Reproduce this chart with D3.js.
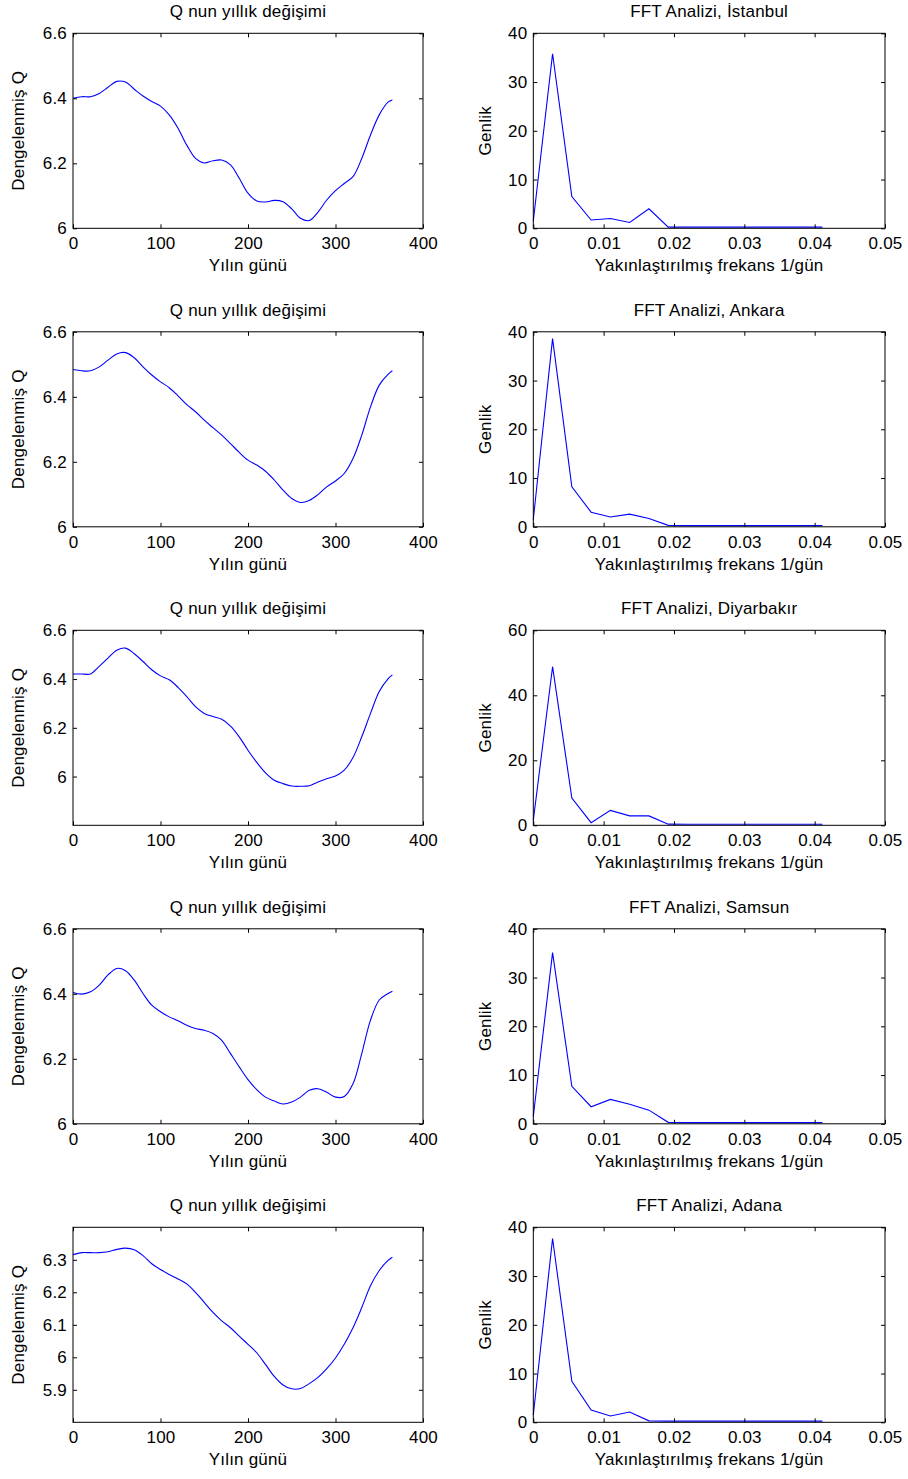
<!DOCTYPE html>
<html>
<head>
<meta charset="utf-8">
<script src="https://cdn.jsdelivr.net/npm/d3@7"></script>
<style>
  body { margin: 0; background: #fff; }
  text { font-family: "Liberation Sans", Arial, sans-serif; fill: #000; }
</style>
</head>
<body>
<script>
// gunler (x ekseni, sol paneller)
var days = [0,10,20,30,40,50,60,70,80,90,100,110,120,130,140,150,160,170,180,190,200,
            210,220,230,240,250,260,270,280,290,300,310,320,330,340,350,360,365];

var qIstanbul = [6.400,6.405,6.405,6.415,6.434,6.452,6.450,6.428,6.407,6.390,6.376,6.349,6.308,6.256,6.215,6.201,6.208,6.210,6.195,6.154,6.108,
                 6.084,6.081,6.086,6.082,6.060,6.031,6.024,6.050,6.087,6.116,6.138,6.159,6.215,6.287,6.349,6.388,6.395];
var qAnkara = [6.484,6.480,6.480,6.492,6.513,6.532,6.536,6.520,6.492,6.467,6.446,6.428,6.403,6.376,6.354,6.328,6.305,6.282,6.256,6.229,6.205,
               6.190,6.171,6.144,6.113,6.087,6.075,6.081,6.099,6.123,6.141,6.164,6.210,6.282,6.369,6.436,6.469,6.480];
var qDiyarbakir = [6.421,6.421,6.421,6.452,6.486,6.518,6.527,6.504,6.472,6.438,6.413,6.397,6.366,6.328,6.287,6.259,6.246,6.235,6.207,6.163,6.108,
                   6.058,6.015,5.985,5.971,5.961,5.960,5.962,5.978,5.991,6.002,6.026,6.078,6.163,6.259,6.349,6.401,6.417];
var qSamsun = [6.404,6.399,6.406,6.427,6.458,6.478,6.471,6.442,6.401,6.365,6.345,6.329,6.317,6.303,6.293,6.288,6.278,6.257,6.216,6.175,6.136,
               6.105,6.082,6.070,6.061,6.067,6.082,6.103,6.108,6.097,6.082,6.084,6.123,6.216,6.319,6.381,6.401,6.408];
var qAdana = [6.316,6.322,6.322,6.322,6.325,6.332,6.336,6.331,6.313,6.288,6.270,6.255,6.241,6.226,6.200,6.169,6.138,6.112,6.091,6.065,6.040,
              6.014,5.978,5.941,5.915,5.903,5.904,5.919,5.938,5.965,5.998,6.040,6.091,6.153,6.220,6.267,6.298,6.308];

// frekanslar (sag paneller)
var freqs = [0,0.00274,0.00548,0.00822,0.01096,0.0137,0.01644,0.01918,0.02192,0.02466,0.0274,0.03014,0.03288,0.03562,0.03836,0.0411];

var ampIstanbul = [1.5,35.8,6.5,1.7,2.0,1.2,4.0,0.25,0.25,0.25,0.25,0.25,0.25,0.25,0.25,0.25];
var ampAnkara = [1.5,38.6,8.2,3.0,2.0,2.6,1.7,0.3,0.25,0.25,0.25,0.25,0.25,0.25,0.25,0.25];
var ampDiyarbakir = [1.5,48.8,8.4,0.8,4.6,2.9,2.9,0.35,0.3,0.3,0.3,0.3,0.3,0.3,0.3,0.3];
var ampSamsun = [1.5,35.1,7.7,3.5,5.0,4.0,2.8,0.3,0.25,0.25,0.25,0.25,0.25,0.25,0.25,0.25];
var ampAdana = [1.5,37.7,8.4,2.5,1.3,2.1,0.3,0.25,0.25,0.25,0.25,0.25,0.25,0.25,0.25,0.25];

var cities = ["İstanbul","Ankara","Diyarbakır","Samsun","Adana"];
var qSeries = [qIstanbul,qAnkara,qDiyarbakir,qSamsun,qAdana];
var ampSeries = [ampIstanbul,ampAnkara,ampDiyarbakir,ampSamsun,ampAdana];

var qDomains = [[6,6.6],[6,6.6],[5.8,6.6],[6,6.6],[5.8,6.4]];
var qTicks = [[6,6.2,6.4,6.6],[6,6.2,6.4,6.6],[6,6.2,6.4,6.6],[6,6.2,6.4,6.6],[5.9,6,6.1,6.2,6.3]];
var ampMax = [40,40,60,40,40];
var ampTicks = [[0,10,20,30,40],[0,10,20,30,40],[0,20,40,60],[0,10,20,30,40],[0,10,20,30,40]];

var dayTicks = [0,100,200,300,400];
var freqTicks = [0,0.01,0.02,0.03,0.04,0.05];

var width = 908, height = 1479;
var svg = d3.select("body").append("svg")
            .attr("width",width)
            .attr("height",height);

var fmt = d3.format("~g");
var fontSize = "17px";

var drawPanel = function(p){
  var g = svg.append("g").attr("transform","translate("+p.left+","+p.top+")");

  var x = d3.scaleLinear().domain(p.xDom).range([0,p.w]);
  var y = d3.scaleLinear().domain(p.yDom).range([p.h,0]);

  var line = d3.line()
               .x(function(d){ return x(d[0]); })
               .y(function(d){ return y(d[1]); })
               .curve(p.curve);

  g.append("path")
   .datum(p.xs.map(function(v,i){ return [v,p.ys[i]]; }))
   .attr("d",line)
   .attr("fill","none")
   .attr("stroke","#0000ff")
   .attr("stroke-width",1.1);

  var axB = g.append("g").attr("transform","translate(0,"+p.h+")")
             .call(d3.axisBottom(x).tickValues(p.xTicks).tickFormat(fmt).tickSize(-4).tickSizeOuter(0).tickPadding(9));
  var axT = g.append("g")
             .call(d3.axisTop(x).tickValues(p.xTicks).tickFormat("").tickSize(-4).tickSizeOuter(0));
  var axL = g.append("g")
             .call(d3.axisLeft(y).tickValues(p.yTicks).tickFormat(fmt).tickSize(-4).tickSizeOuter(0).tickPadding(6));
  var axR = g.append("g").attr("transform","translate("+p.w+",0)")
             .call(d3.axisRight(y).tickValues(p.yTicks).tickFormat("").tickSize(-4).tickSizeOuter(0));

  [axB,axT,axL,axR].forEach(function(a){
    a.select(".domain").remove();
    a.selectAll("line").attr("stroke","#000");
    a.selectAll("text")
     .style("font-family","'Liberation Sans', Arial, sans-serif")
     .style("font-size",fontSize)
     .style("letter-spacing","0.2px")
     .attr("fill","#000");
  });

  g.append("rect")
   .attr("width",p.w).attr("height",p.h)
   .attr("fill","none")
   .attr("stroke","#000")
   .attr("stroke-width",1);

  g.append("text")
   .attr("x",p.w/2).attr("y",-16)
   .attr("text-anchor","middle")
   .style("font-size",fontSize)
   .style("letter-spacing","0.2px")
   .text(p.title);

  g.append("text")
   .attr("x",p.w/2).attr("y",p.h+43)
   .attr("text-anchor","middle")
   .style("font-size",fontSize)
   .style("letter-spacing","0.2px")
   .text(p.xLabel);

  g.append("text")
   .attr("transform","translate("+(-p.yLabelOff)+","+(p.h/2)+") rotate(-90)")
   .attr("text-anchor","middle")
   .style("font-size",fontSize)
   .style("letter-spacing","0.2px")
   .text(p.yLabel);
};

cities.forEach(function(city,i){
  var top = 33.3 + i*298.5;

  drawPanel({
    left:73, top:top, w:350, h:195,
    xDom:[0,400], xTicks:dayTicks,
    yDom:qDomains[i], yTicks:qTicks[i],
    xs:days, ys:qSeries[i],
    curve:d3.curveCatmullRom,
    title:"Q nun yıllık değişimi",
    xLabel:"Yılın günü",
    yLabel:"Dengelenmiş Q",
    yLabelOff:49
  });

  drawPanel({
    left:533.3, top:top, w:351.7, h:195,
    xDom:[0,0.05], xTicks:freqTicks,
    yDom:[0,ampMax[i]], yTicks:ampTicks[i],
    xs:freqs, ys:ampSeries[i],
    curve:d3.curveLinear,
    title:"FFT Analizi, "+city,
    xLabel:"Yakınlaştırılmış frekans 1/gün",
    yLabel:"Genlik",
    yLabelOff:42
  });
});
</script>
</body>
</html>
